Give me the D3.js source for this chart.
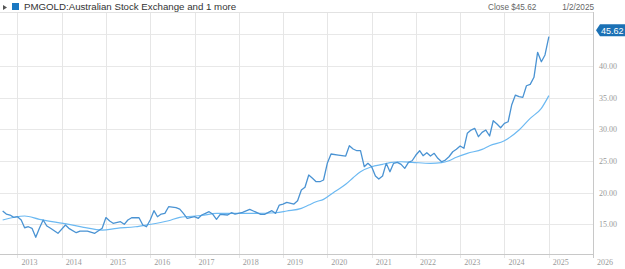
<!DOCTYPE html>
<html>
<head>
<meta charset="utf-8">
<script src="https://cdn.jsdelivr.net/npm/d3@7"></script>
<style>
  body { margin: 0; background: #fff; }
  svg { display: block; }
  .hdr { font-family: "Liberation Sans", Arial, sans-serif; }
  .tick-label { font-family: "Liberation Serif", "Times New Roman", serif; font-size: 8px; fill: #9a9a9a; }
</style>
</head>
<body>
<svg id="chart" width="625" height="269"></svg>
<script>
// price (monthly close)
const priceDates = [
  '2012-09-01','2012-10-01','2012-11-01','2012-12-01','2013-01-01','2013-02-01','2013-03-01','2013-04-01',
  '2013-05-01','2013-06-01','2013-07-01','2013-08-01','2013-09-01','2013-10-01','2013-12-01','2014-02-01',
  '2014-03-01','2014-05-01','2014-06-01','2014-08-01','2014-10-01','2014-12-01','2015-01-01','2015-02-01',
  '2015-03-01','2015-05-01','2015-06-01','2015-07-01','2015-08-01','2015-10-01','2015-11-01','2015-12-01',
  '2016-01-01','2016-02-01','2016-03-01','2016-04-01','2016-05-01','2016-06-01','2016-08-01','2016-09-01',
  '2016-10-01','2016-11-01','2017-01-01','2017-02-01','2017-03-01','2017-04-01','2017-05-01','2017-06-01',
  '2017-07-01','2017-08-01','2017-10-01','2017-11-01','2017-12-01','2018-02-01','2018-04-01','2018-05-01',
  '2018-07-01','2018-08-01','2018-10-01','2018-11-01','2018-12-01','2019-01-01','2019-02-01','2019-04-01',
  '2019-05-01','2019-06-01','2019-07-01','2019-08-01','2019-09-01','2019-10-01','2019-11-01','2019-12-01',
  '2020-01-01','2020-02-01','2020-04-01','2020-06-01','2020-07-01','2020-08-01','2020-09-01','2020-10-01',
  '2020-11-01','2020-12-01','2021-01-01','2021-02-01','2021-03-01','2021-04-01','2021-05-01','2021-06-01',
  '2021-07-01','2021-08-01','2021-09-01','2021-10-01','2021-11-01','2021-12-01','2022-01-01','2022-02-01',
  '2022-03-01','2022-04-01','2022-05-01','2022-06-01','2022-07-01','2022-08-01','2022-09-01','2022-10-01',
  '2022-11-01','2022-12-01','2023-01-01','2023-02-01','2023-03-01','2023-04-01','2023-05-01','2023-06-01',
  '2023-07-01','2023-08-01','2023-09-01','2023-10-01','2023-11-01','2023-12-01','2024-01-01','2024-02-01',
  '2024-03-01','2024-04-01','2024-05-01','2024-06-01','2024-07-01','2024-08-01','2024-09-01','2024-10-01',
  '2024-11-01','2024-12-01','2025-01-02'
]
const priceValues = [
  17.10,16.62,16.47,16.10,16.20,15.68,14.46,14.62,
  14.37,12.95,14.37,15.68,14.73,14.37,13.58,14.89,
  14.37,13.68,13.94,13.94,13.58,14.37,16.07,15.52,
  15.16,15.41,15.00,15.68,16.04,16.04,14.89,14.62,
  15.68,17.15,16.20,16.62,16.73,17.78,17.62,17.41,
  16.73,15.95,16.20,15.95,16.47,16.73,16.99,16.58,
  15.79,16.58,16.47,16.83,16.62,16.89,17.37,17.10,
  16.58,16.58,17.15,16.73,18.04,18.20,18.47,18.20,
  18.72,20.41,20.84,22.78,22.26,21.72,21.72,21.99,
  24.62,26.09,25.93,25.77,27.40,26.88,26.61,26.61,
  24.09,24.62,24.09,22.62,22.15,22.62,24.62,23.30,
  24.62,24.78,24.46,23.83,24.78,25.03,25.93,26.61,
  25.82,26.29,25.77,26.20,25.41,24.87,25.14,25.66,
  26.45,26.83,27.35,26.99,29.35,29.87,30.14,28.82,
  29.51,29.87,28.93,31.34,30.82,30.24,30.93,31.18,
  33.82,35.39,35.13,35.03,36.86,37.08,38.19,42.13,
  40.65,41.71,44.59,45.62
]

// moving average
const avgDates = [
  '2012-09-01','2013-03-01','2013-07-01','2014-03-01','2014-07-01','2014-12-01','2015-04-01','2015-09-01',
  '2015-12-01','2016-06-01','2016-09-01','2017-03-01','2017-07-01','2017-12-01','2018-04-01','2018-11-01',
  '2019-02-01','2019-06-01','2019-08-01','2019-10-01','2019-12-01','2020-03-01','2020-06-01','2020-08-01',
  '2020-10-01','2021-01-01','2021-04-01','2021-06-01','2021-09-01','2021-12-01','2022-05-01','2022-08-01',
  '2022-10-01','2022-12-01','2023-03-01','2023-07-01','2023-09-01','2024-01-01','2024-05-01','2024-08-01',
  '2024-11-01','2025-01-02'
]
const avgValues = [
  15.68,16.31,15.79,15.00,14.53,14.10,14.37,14.62,
  14.89,15.57,16.10,16.39,16.73,16.73,16.73,16.83,
  17.10,17.52,18.04,18.56,18.94,20.14,21.31,22.35,
  23.30,24.09,24.46,24.72,24.87,24.78,24.62,24.72,
  25.03,25.57,26.20,26.83,27.40,28.19,29.87,31.72,
  33.30,35.30
]

const yTicks = [15, 20, 25, 30, 35, 40, 45]
const yearTicks = d3.range(2013, 2027)
const lastClose = 45.62
const lastDate = '1/2/2025'
const seriesName = 'PMGOLD:Australian Stock Exchange and 1 more'

const parse = d3.timeParse('%Y-%m-%d')
const price = priceDates.map((d, i) => ({ date: parse(d), value: priceValues[i] }))
const avg = avgDates.map((d, i) => ({ date: parse(d), value: avgValues[i] }))

const plot = { left: 0, right: 593, top: 12, bottom: 254 }

const x = d3.scaleTime()
  .domain([new Date(2012, 7, 10), new Date(2026, 0, 1)])
  .range([plot.left, plot.right])

const y = d3.scaleLinear()
  .domain([10.32, 48.49])
  .range([plot.bottom, plot.top])

const svg = d3.select('#chart')

//
// grid
//
svg.append('g')
  .selectAll('line')
  .data(yTicks)
  .enter().append('line')
    .attr('x1', plot.left).attr('x2', plot.right)
    .attr('y1', d => Math.round(y(d)) + 0.5)
    .attr('y2', d => Math.round(y(d)) + 0.5)
    .attr('stroke', '#e8e8e8')

svg.append('g')
  .selectAll('line')
  .data(yearTicks)
  .enter().append('line')
    .attr('x1', d => Math.round(x(new Date(d, 0, 1))) + 0.5)
    .attr('x2', d => Math.round(x(new Date(d, 0, 1))) + 0.5)
    .attr('y1', plot.top).attr('y2', plot.bottom + 4)
    .attr('stroke', '#e6e6e6')

// top border
svg.append('line')
  .attr('x1', plot.left).attr('x2', plot.right + 1)
  .attr('y1', plot.top + 0.5).attr('y2', plot.top + 0.5)
  .attr('stroke', '#e2e2e2')

// axis lines
svg.append('line')
  .attr('x1', plot.left).attr('x2', plot.right)
  .attr('y1', plot.bottom + 0.5).attr('y2', plot.bottom + 0.5)
  .attr('stroke', '#c8c8c8')

svg.append('line')
  .attr('x1', plot.right + 0.5).attr('x2', plot.right + 0.5)
  .attr('y1', plot.top).attr('y2', plot.bottom + 4)
  .attr('stroke', '#c8c8c8')

//
// tick labels
//
svg.append('g')
  .selectAll('text')
  .data(yearTicks)
  .enter().append('text')
    .attr('class', 'tick-label')
    .attr('x', d => x(new Date(d, 0, 1)) + 4)
    .attr('y', 265)
    .text(d => d)

// the 45.00 label sits under the last-close tag, as in the source
svg.append('g')
  .selectAll('text')
  .data(yTicks.filter(d => Math.abs(y(d) - y(lastClose)) > 8))
  .enter().append('text')
    .attr('class', 'tick-label')
    .attr('x', 599)
    .attr('y', d => y(d) + 3)
    .text(d => d3.format('.2f')(d))

//
// lines
//
const line = d3.line()
  .x(d => x(d.date))
  .y(d => y(d.value))

svg.append('path')
  .datum(avg)
  .attr('fill', 'none')
  .attr('stroke', '#6cb9f2')
  .attr('stroke-width', 1.2)
  .attr('d', line.curve(d3.curveMonotoneX))

svg.append('path')
  .datum(price)
  .attr('fill', 'none')
  .attr('stroke', '#4a93d3')
  .attr('stroke-width', 1.3)
  .attr('stroke-linejoin', 'round')
  .attr('d', line.curve(d3.curveLinear))

//
// last value tag
//
const ty = y(lastClose)
svg.append('path')
  .attr('d', `M596,${ty} L600,${ty - 6} L625,${ty - 6} L625,${ty + 6} L600,${ty + 6} Z`)
  .attr('fill', '#1b71b5')

svg.append('text')
  .attr('x', 601)
  .attr('y', ty + 3.5)
  .attr('fill', '#fff')
  .style('font-family', '"Liberation Sans", Arial, sans-serif')
  .style('font-size', '9px')
  .text(d3.format('.2f')(lastClose))

//
// header
//
svg.append('path')
  .attr('d', 'M3,5 L7,7.5 L3,10 Z')
  .attr('fill', '#555')

svg.append('rect')
  .attr('x', 12).attr('y', 3)
  .attr('width', 7).attr('height', 7)
  .attr('fill', '#1a78c2')

svg.append('text')
  .attr('class', 'hdr')
  .attr('x', 24).attr('y', 10)
  .style('font-size', '9.7px')
  .attr('fill', '#333')
  .text(seriesName)

svg.append('text')
  .attr('class', 'hdr')
  .attr('x', 488).attr('y', 10)
  .style('font-size', '8.2px')
  .attr('fill', '#666')
  .text('Close $' + d3.format('.2f')(lastClose))

svg.append('text')
  .attr('class', 'hdr')
  .attr('x', 594).attr('y', 10)
  .attr('text-anchor', 'end')
  .style('font-size', '8.2px')
  .attr('fill', '#666')
  .text(lastDate)
</script>
</body>
</html>
